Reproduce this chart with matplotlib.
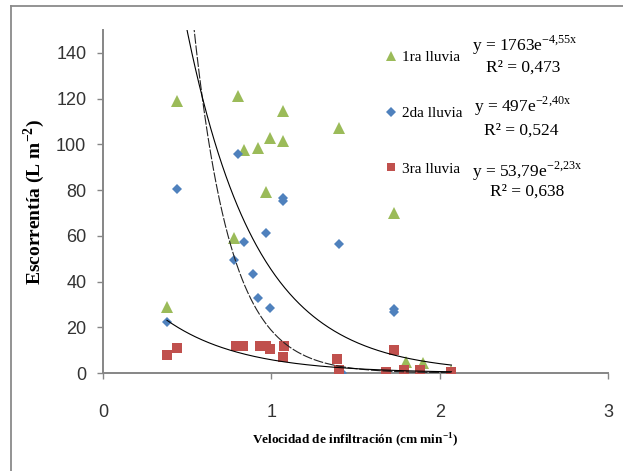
import numpy as np
import matplotlib
matplotlib.use("Agg")
import matplotlib.pyplot as plt
from matplotlib.lines import Line2D

# ---- data ----
x1 = [0.38, 0.44, 0.78, 0.80, 0.84, 0.92, 0.97, 0.99, 1.07, 1.07, 1.40, 1.73, 1.80, 1.90, 2.07]
y1 = [28.7, 119.0, 59.2, 121.2, 97.5, 98.3, 79.3, 102.6, 114.7, 101.6, 107.3, 69.9, 5.0, 4.5, 1.0]

x2 = [0.38, 0.44, 0.78, 0.80, 0.84, 0.89, 0.92, 0.97, 0.99, 1.07, 1.07, 1.40, 1.42, 1.73, 1.73, 2.07]
y2 = [22.2, 80.4, 49.4, 95.8, 57.2, 43.2, 32.9, 61.4, 28.3, 75.2, 76.5, 56.3, 0.0, 26.5, 28.0, 0.0]

x3 = [0.38, 0.44, 0.79, 0.83, 0.93, 0.97, 0.99, 1.075, 1.07, 1.39, 1.40, 1.68, 1.73, 1.79, 1.885, 2.07]
y3 = [7.9, 10.8, 11.8, 11.8, 11.8, 11.8, 10.4, 11.8, 7.0, 6.0, 1.3, 0.6, 10.1, 1.3, 1.3, 0.6]

series_names = ["1ra lluvia", "2da lluvia", "3ra lluvia"]
coef_a = [1763, 497, 53.79]
coef_b = [-4.55, -2.40, -2.23]
eq_a_txt = ["1763", "497", "53,79"]
eq_b_txt = ["-4{,}55x", "-2{,}40x", "-2{,}23x"]
r2_txt = ["0,473", "0,524", "0,638"]

x_ticks = [0, 1, 2, 3]
y_ticks = [0, 20, 40, 60, 80, 100, 120, 140]

colors = ["#9BBB59", "#4F81BD", "#C0504D"]
markers = ["^", "D", "s"]
msizes = [8, 5.6, 7.5]

W, H = 623, 471
fig = plt.figure(figsize=(W / 100, H / 100), dpi=100)
ax_l, ax_r, ax_t, ax_b = 103, 608, 30, 373
ax = fig.add_axes([ax_l / W, 1 - ax_b / H, (ax_r - ax_l) / W, (ax_b - ax_t) / H])

xs = [x1, x2, x3]
ys = [y1, y2, y3]
handles = []
for i in range(3):
    h, = ax.plot(xs[i], ys[i], linestyle="none", marker=markers[i], markersize=msizes[i],
                 color=colors[i], markeredgewidth=0, label=series_names[i], zorder=3 + i)
    handles.append(h)

# trend lines
line_styles = [(0, (9, 1.5)), "-", "-"]
line_colors = ["#222222", "black", "black"]
for i in range(3):
    xx = np.linspace(min(xs[i]), max(xs[i]), 300)
    yy = coef_a[i] * np.exp(coef_b[i] * xx)
    ax.plot(xx, yy, linestyle=line_styles[i], color=line_colors[i], linewidth=0.8, zorder=10)

ax.set_xlim(0, 3)
ax.set_ylim(0, 150)
ax.set_xticks(x_ticks)
ax.set_yticks(y_ticks)
ax.set_xticklabels([str(v) for v in x_ticks])
ax.set_yticklabels([str(v) for v in y_ticks])

for lab in ax.get_xticklabels() + ax.get_yticklabels():
    lab.set_fontfamily(["Liberation Sans Narrow", "Liberation Sans"])
    lab.set_fontsize(13)
    lab.set_color("#333333")

for s in ["top", "right"]:
    ax.spines[s].set_visible(False)
for s in ["left", "bottom"]:
    ax.spines[s].set_color("#868686")
    ax.spines[s].set_linewidth(1.4)
ax.tick_params(axis="both", direction="out", length=4, width=1, color="#868686")
ax.tick_params(axis="y", pad=8)
ax.tick_params(axis="x", pad=18)

serif = ["Liberation Serif", "DejaVu Serif"]
ax.set_xlabel("Velocidad de infiltración (cm min$^{\\mathregular{-1}}$)", family=serif,
              weight="bold", fontsize=9.5)
ax.xaxis.set_label_coords(0.499, -0.17)
ax.set_ylabel("Escorrentía (L m$^{\\mathregular{-2}}$)", family=serif, weight="bold", fontsize=14)
ax.yaxis.set_label_coords(-0.11, 0.5)

# legend
leg = ax.legend(handles=handles, loc="upper left", bbox_to_anchor=(0.559, 0.94), frameon=False,
                prop=dict(family=serif, size=11), handlelength=0.8, handletextpad=0.3,
                labelspacing=2.75, borderpad=0, borderaxespad=0, markerscale=0.85)

# equations
eq_pos = [(0.836, 0.956), (0.830, 0.776), (0.839, 0.587)]
r2_pos = [(0.832, 0.889), (0.829, 0.708), (0.839, 0.528)]
for i in range(3):
    ax.text(eq_pos[i][0], eq_pos[i][1],
            "y = " + eq_a_txt[i] + "e$^{\\mathregular{" + eq_b_txt[i] + "}}$",
            transform=ax.transAxes, ha="center", va="center", family=serif, fontsize=12.5)
    ax.text(r2_pos[i][0], r2_pos[i][1], "R² = " + r2_txt[i],
            transform=ax.transAxes, ha="center", va="center", family=serif, fontsize=12.5)

# outer frame (top and left edges visible)
fig.add_artist(Line2D([10.5 / W, 10.5 / W], [0, 1 - 5.5 / H], transform=fig.transFigure,
                      color="#8a8a8a", linewidth=1.3))
fig.add_artist(Line2D([10.5 / W, 1], [1 - 5.5 / H, 1 - 5.5 / H], transform=fig.transFigure,
                      color="#8a8a8a", linewidth=1.3))

fig.savefig("out.png", dpi=100)
